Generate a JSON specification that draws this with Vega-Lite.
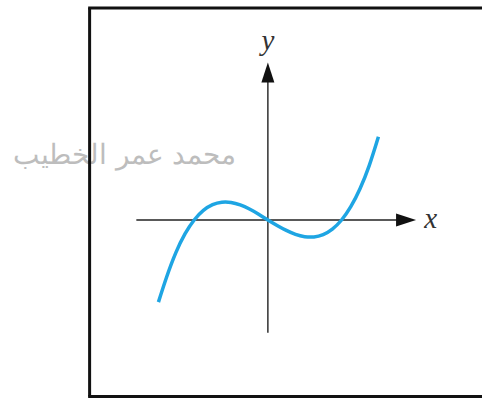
{
  "$schema": "https://vega.github.io/schema/vega-lite/v6.json",
  "width": 484,
  "height": 399,
  "padding": 0,
  "autosize": {"type": "fit", "contains": "padding"},
  "background": "white",
  "config": {"view": {"stroke": null}},
  "datasets": {
    "curve": [
      {"x": -2.97, "y": -2.22},
      {"x": -2.75, "y": -1.548},
      {"x": -2.5, "y": -0.889},
      {"x": -2.25, "y": -0.378},
      {"x": -2.0, "y": 0},
      {"x": -1.75, "y": 0.259},
      {"x": -1.5, "y": 0.415},
      {"x": -1.25, "y": 0.481},
      {"x": -1.0, "y": 0.474},
      {"x": -0.75, "y": 0.407},
      {"x": -0.5, "y": 0.296},
      {"x": -0.25, "y": 0.156},
      {"x": 0, "y": 0},
      {"x": 0.25, "y": -0.148},
      {"x": 0.5, "y": -0.281},
      {"x": 0.75, "y": -0.387},
      {"x": 1.0, "y": -0.45},
      {"x": 1.25, "y": -0.457},
      {"x": 1.5, "y": -0.394},
      {"x": 1.75, "y": -0.246},
      {"x": 2.0, "y": 0},
      {"x": 2.25, "y": 0.359},
      {"x": 2.5, "y": 0.844},
      {"x": 2.75, "y": 1.47},
      {"x": 3.0, "y": 2.25}
    ],
    "frame": [
      {"x": -4.838, "y": 5.73, "x2": -4.838, "y2": -4.77},
      {"x": -4.878, "y": 5.73, "x2": 5.811, "y2": 5.73},
      {"x": -4.878, "y": -4.77, "x2": 5.811, "y2": -4.77}
    ],
    "axes": [
      {"x": 0, "y": 3.8, "x2": 0, "y2": -3.05},
      {"x": -3.57, "y": 0, "x2": 3.6, "y2": 0}
    ],
    "labels": [
      {"x": 4.42, "y": 0.03, "label": "x"},
      {"x": 0, "y": 4.84, "label": "y"}
    ],
    "watermark": [
      {"x": -3.89, "y": 1.72, "label": "محمد عمر الخطيب"}
    ],
    "xarrow": [{"x": 3.75, "y": 0}],
    "yarrow": [{"x": 0, "y": 3.986}]
  },
  "encoding": {
    "x": {"field": "x", "type": "quantitative", "axis": null,
          "scale": {"domain": [-7.27, 5.811], "nice": false, "zero": false, "padding": 0}},
    "y": {"field": "y", "type": "quantitative", "axis": null,
          "scale": {"domain": [-4.838, 5.946], "nice": false, "zero": false, "padding": 0}}
  },
  "layer": [
    {
      "data": {"name": "watermark"},
      "mark": {"type": "text", "font": "DejaVu Sans", "fontSize": 28, "fontWeight": 300, "color": "#bdbdbd", "align": "center", "baseline": "middle"},
      "encoding": {"text": {"field": "label"}}
    },
    {
      "data": {"name": "frame"},
      "mark": {"type": "rule", "color": "#111111", "strokeWidth": 3},
      "encoding": {"x2": {"field": "x2"}, "y2": {"field": "y2"}}
    },
    {
      "data": {"name": "axes"},
      "mark": {"type": "rule", "color": "#222222", "strokeWidth": 1.4},
      "encoding": {"x2": {"field": "x2"}, "y2": {"field": "y2"}}
    },
    {
      "data": {"name": "xarrow"},
      "mark": {"type": "point", "filled": true, "color": "#111111", "opacity": 1, "size": 400,
               "shape": "M-1,-0.65L1,0L-1,0.65Z"}
    },
    {
      "data": {"name": "yarrow"},
      "mark": {"type": "point", "filled": true, "color": "#111111", "opacity": 1, "size": 400,
               "shape": "M-0.65,1L0,-1L0.65,1Z"}
    },
    {
      "data": {"name": "labels"},
      "mark": {"type": "text", "font": "Liberation Serif", "fontStyle": "italic", "fontSize": 29, "color": "#333333", "align": "center", "baseline": "middle"},
      "encoding": {"text": {"field": "label"}}
    },
    {
      "data": {"name": "curve"},
      "mark": {"type": "line", "color": "#1ea5e3", "strokeWidth": 3.5, "interpolate": "natural", "strokeCap": "butt"},
      "encoding": {"order": {"field": "x", "type": "quantitative"}}
    }
  ]
}
